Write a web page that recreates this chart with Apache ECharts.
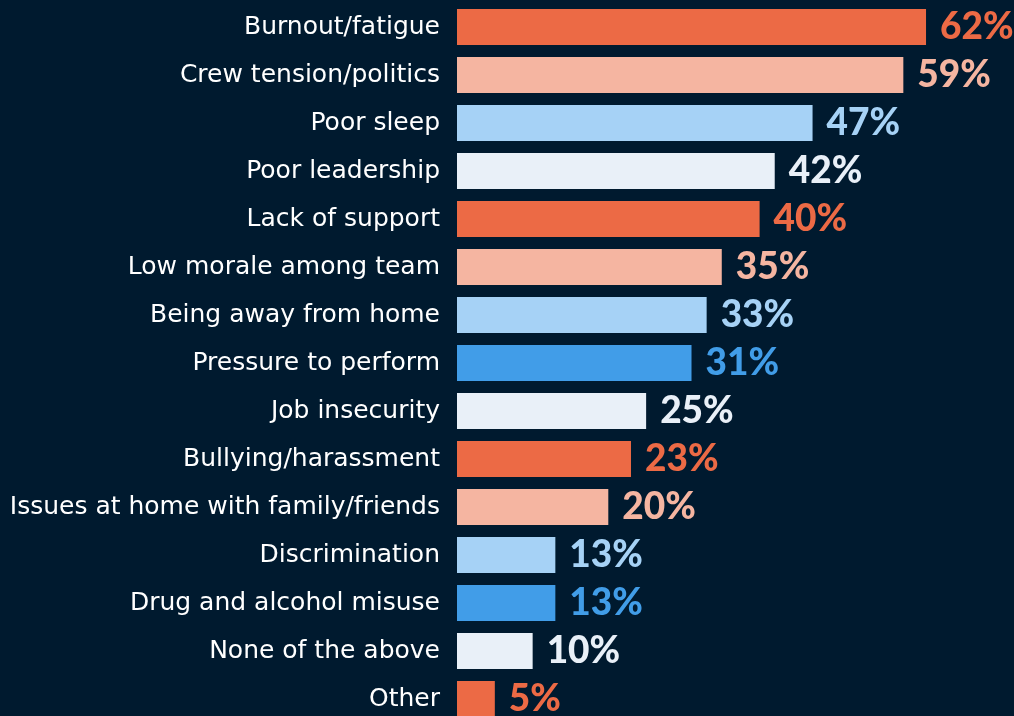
<!DOCTYPE html>
<html>
<head>
<meta charset="utf-8">
<script src="https://cdn.jsdelivr.net/npm/echarts@6/dist/echarts.min.js"></script>
<style>
  html, body { margin: 0; padding: 0; background: #001a2f; }
  #chart { width: 1014px; height: 716px; }
</style>
</head>
<body>
<div id="chart"></div>
<script>
// data, top to bottom
const categories = [
  'Burnout/fatigue', 'Crew tension/politics', 'Poor sleep', 'Poor leadership',
  'Lack of support', 'Low morale among team', 'Being away from home',
  'Pressure to perform', 'Job insecurity', 'Bullying/harassment',
  'Issues at home with family/friends', 'Discrimination',
  'Drug and alcohol misuse', 'None of the above', 'Other'
];
const values = [62, 59, 47, 42, 40, 35, 33, 31, 25, 23, 20, 13, 13, 10, 5];
const colorKeys = [
  'orange', 'salmon', 'sky', 'white', 'orange', 'salmon', 'sky', 'blue',
  'white', 'orange', 'salmon', 'sky', 'blue', 'white', 'orange'
];

// palette
const palette = {
  orange: '#ec6a45',
  salmon: '#f5b5a1',
  sky: '#a6d2f6',
  blue: '#419de8',
  white: '#e9f0f8'
};

const chart = echarts.init(document.getElementById('chart'));

const option = {
  backgroundColor: '#001a2f',
  animation: false,
  grid: {
    left: 457,
    top: 3,
    width: 756.5, // 100% -> ~7.565px per point, runs past the right edge
    height: 720,
    outerBoundsMode: 'none',
    containLabel: false
  },
  xAxis: {
    type: 'value',
    min: 0,
    max: 100,
    show: false
  },
  yAxis: {
    type: 'category',
    inverse: true,
    data: categories,
    axisLine: { show: false },
    axisTick: { show: false },
    axisLabel: {
      margin: 17,
      color: '#ffffff',
      fontFamily: 'DejaVu Sans',
      fontSize: 25
    }
  },
  series: [{
    type: 'bar',
    barCategoryGap: '25%',
    data: values.map((v, i) => ({
      value: v,
      itemStyle: { color: palette[colorKeys[i]] },
      label: { color: palette[colorKeys[i]] }
    })),
    label: {
      show: true,
      position: 'right',
      distance: 14,
      formatter: '{c}%',
      fontFamily: 'Lato',
      fontWeight: 900,
      fontSize: 37
    }
  }]
};

chart.setOption(option);
</script>
</body>
</html>
